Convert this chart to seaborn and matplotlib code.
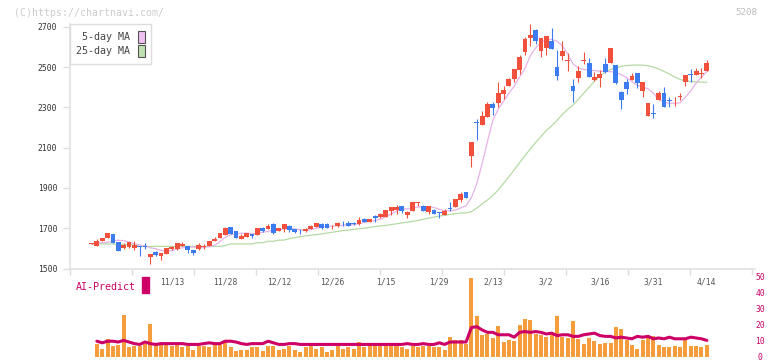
import numpy as np
import pandas as pd
import matplotlib
matplotlib.use("Agg")
import matplotlib.pyplot as plt
import seaborn as sns
from matplotlib.patches import Rectangle
from matplotlib.transforms import blended_transform_factory

# --- values (116 trading days, Nov 2025 - Apr 14 2026) ---
opens = [1624, 1613, 1638, 1653, 1671, 1632, 1603, 1608, 1600, 1609,
         1611, 1559, 1584, 1562, 1574, 1595, 1597, 1612, 1610, 1592,
         1597, 1608, 1613, 1637, 1651, 1668, 1704, 1686, 1648, 1658,
         1671, 1666, 1703, 1696, 1723, 1688, 1698, 1713, 1696, 1686,
         1684, 1696, 1706, 1723, 1723, 1709, 1713, 1726, 1726, 1725,
         1719, 1747, 1732, 1762, 1754, 1757, 1787, 1792, 1810, 1767,
         1787, 1824, 1810, 1782, 1790, 1778, 1767, 1798, 1807, 1840,
         1880, 2058, 2225, 2212, 2252, 2316, 2321, 2368, 2406, 2441,
         2487, 2575, 2646, 2684, 2578, 2594, 2631, 2502, 2555, 2530,
         2406, 2447, 2531, 2521, 2435, 2447, 2515, 2522, 2510, 2378,
         2425, 2437, 2470, 2383, 2258, 2270, 2338, 2369, 2335, 2329,
         2353, 2427, 2464, 2460, 2467, 2482]
highs = [1627, 1645, 1652, 1677, 1672, 1633, 1628, 1633, 1635, 1610,
         1627, 1572, 1589, 1578, 1603, 1612, 1628, 1630, 1611, 1593,
         1625, 1620, 1638, 1658, 1678, 1708, 1706, 1687, 1671, 1677,
         1672, 1703, 1705, 1719, 1728, 1702, 1722, 1718, 1697, 1694,
         1700, 1718, 1727, 1728, 1724, 1718, 1731, 1736, 1736, 1731,
         1756, 1752, 1748, 1766, 1775, 1791, 1806, 1815, 1811, 1787,
         1832, 1830, 1815, 1811, 1797, 1782, 1794, 1832, 1845, 1881,
         1882, 2130, 2242, 2282, 2326, 2326, 2426, 2406, 2443, 2492,
         2560, 2651, 2713, 2689, 2645, 2656, 2694, 2584, 2629, 2568,
         2440, 2505, 2573, 2545, 2477, 2487, 2545, 2596, 2512, 2380,
         2439, 2472, 2472, 2428, 2323, 2318, 2381, 2401, 2353, 2351,
         2371, 2461, 2490, 2495, 2493, 2535]
lows = [1623, 1612, 1637, 1652, 1627, 1589, 1595, 1600, 1592, 1564,
        1599, 1521, 1564, 1542, 1573, 1594, 1592, 1610, 1579, 1569,
        1592, 1598, 1612, 1636, 1649, 1667, 1671, 1652, 1646, 1656,
        1653, 1665, 1683, 1695, 1673, 1686, 1683, 1680, 1675, 1673,
        1683, 1694, 1704, 1697, 1701, 1698, 1706, 1713, 1711, 1716,
        1717, 1729, 1730, 1731, 1752, 1756, 1767, 1770, 1777, 1752,
        1785, 1810, 1785, 1772, 1770, 1752, 1765, 1787, 1805, 1830,
        1848, 2006, 2138, 2210, 2250, 2264, 2303, 2341, 2404, 2427,
        2467, 2561, 2606, 2616, 2551, 2561, 2587, 2436, 2535, 2482,
        2328, 2427, 2513, 2448, 2433, 2402, 2470, 2520, 2416, 2293,
        2366, 2435, 2394, 2353, 2257, 2247, 2336, 2301, 2303, 2305,
        2338, 2406, 2427, 2458, 2447, 2480]
closes = [1626, 1635, 1651, 1676, 1628, 1589, 1617, 1632, 1618, 1607,
          1609, 1572, 1567, 1577, 1602, 1608, 1627, 1623, 1592, 1579,
          1617, 1610, 1637, 1648, 1676, 1701, 1673, 1653, 1661, 1675,
          1663, 1701, 1686, 1713, 1678, 1701, 1721, 1693, 1681, 1684,
          1698, 1713, 1726, 1699, 1703, 1711, 1726, 1724, 1713, 1723,
          1741, 1731, 1747, 1751, 1769, 1790, 1805, 1807, 1787, 1781,
          1830, 1826, 1787, 1810, 1772, 1776, 1787, 1796, 1843, 1872,
          1850, 2128, 2223, 2257, 2316, 2297, 2371, 2388, 2441, 2490,
          2551, 2641, 2659, 2631, 2642, 2654, 2589, 2457, 2579, 2532,
          2381, 2480, 2533, 2450, 2452, 2465, 2474, 2594, 2421, 2338,
          2393, 2457, 2422, 2426, 2321, 2268, 2373, 2303, 2333, 2331,
          2356, 2459, 2461, 2478, 2469, 2520]
ma5 = [1622, 1628, 1628, 1630, 1636, 1640, 1638, 1632, 1622, 1617,
       1612, 1603, 1598, 1590, 1587, 1589, 1597, 1603, 1608, 1606,
       1603, 1604, 1608, 1615, 1633, 1655, 1668, 1672, 1675, 1676,
       1672, 1675, 1680, 1684, 1690, 1692, 1696, 1698, 1696, 1692,
       1690, 1693, 1700, 1706, 1709, 1710, 1712, 1715, 1717, 1718,
       1722, 1729, 1734, 1738, 1745, 1757, 1770, 1785, 1797, 1795,
       1800, 1805, 1807, 1806, 1803, 1794, 1787, 1786, 1790, 1800,
       1812, 1852, 1920, 2020, 2130, 2236, 2290, 2330, 2370, 2405,
       2450, 2493, 2555, 2595, 2620, 2637, 2637, 2628, 2605, 2565,
       2515, 2495, 2487, 2485, 2482, 2479, 2477, 2477, 2474, 2462,
       2448, 2427, 2410, 2400, 2392, 2370, 2340, 2325, 2320, 2320,
       2322, 2350, 2382, 2420, 2450, 2478]
ma25 = [1622, 1622, 1622, 1622, 1622, 1618, 1618, 1618, 1618, 1610,
        1610, 1610, 1610, 1610, 1610, 1610, 1610, 1610, 1610, 1610,
        1610, 1610, 1610, 1610, 1610, 1614, 1622, 1622, 1622, 1622,
        1622, 1628, 1628, 1635, 1635, 1641, 1641, 1648, 1653, 1658,
        1662, 1665, 1668, 1672, 1676, 1680, 1684, 1688, 1691, 1694,
        1697, 1700, 1704, 1708, 1711, 1714, 1718, 1722, 1726, 1730,
        1734, 1738, 1744, 1750, 1755, 1760, 1764, 1768, 1772, 1775,
        1776, 1782, 1800, 1820, 1840, 1862, 1890, 1922, 1955, 1990,
        2025, 2060, 2093, 2125, 2155, 2185, 2208, 2235, 2265, 2290,
        2312, 2340, 2370, 2400, 2430, 2455, 2475, 2488, 2497, 2503,
        2507, 2509, 2510, 2509, 2506, 2500, 2490, 2478, 2465, 2450,
        2438, 2432, 2428, 2426, 2425, 2424]
# volume and AI-Predict exist from the 2nd day on
volume = [8.0, 4.9, 11.1, 6.4, 7.0, 25.9, 5.6, 6.4, 6.4, 8.0,
          20.4, 7.0, 7.0, 7.0, 6.4, 7.0, 5.6, 6.4, 4.2, 6.4,
          6.4, 5.8, 7.0, 7.4, 10.5, 5.6, 3.7, 4.3, 4.3, 5.8,
          5.6, 3.7, 6.4, 6.4, 4.3, 4.9, 6.4, 4.3, 3.0, 5.6,
          6.4, 4.9, 5.6, 3.0, 4.3, 6.4, 4.9, 5.8, 4.9, 9.2,
          5.6, 6.4, 8.6, 6.4, 6.4, 6.4, 6.4, 5.6, 4.9, 6.4,
          5.6, 6.4, 6.4, 5.6, 5.6, 4.3, 12.1, 10.0, 10.5, 8.0,
          48.7, 25.3, 13.6, 14.2, 11.7, 19.1, 9.2, 10.5, 9.4, 19.8,
          23.0, 22.4, 14.2, 13.2, 12.1, 14.2, 24.9, 12.1, 11.7, 21.8,
          11.1, 8.0, 11.7, 9.4, 8.0, 8.6, 8.6, 18.1, 17.3, 10.5,
          7.4, 4.9, 10.0, 13.6, 12.6, 7.4, 5.6, 5.6, 6.4, 5.6,
          10.5, 6.4, 6.4, 5.6, 7.0]
ai_predict = [9.5, 8.5, 9.5, 9.5, 9.0, 10.0, 9.0, 8.0, 7.5, 9.0,
              8.0, 7.5, 8.0, 8.0, 8.0, 8.0, 8.0, 7.5, 7.5, 7.5,
              8.0, 8.5, 8.0, 8.0, 9.5, 9.5, 9.0, 8.0, 7.5, 8.0,
              8.0, 8.0, 9.5, 8.5, 7.5, 7.5, 8.0, 8.0, 7.5, 7.5,
              7.5, 7.5, 7.5, 7.5, 7.5, 7.5, 7.5, 7.5, 7.5, 7.5,
              7.5, 7.5, 7.5, 7.5, 7.5, 7.5, 7.5, 7.5, 8.0, 7.5,
              7.5, 8.0, 7.5, 7.5, 8.5, 7.5, 9.0, 9.0, 9.0, 9.0,
              18.0, 18.5, 16.5, 15.0, 15.0, 13.5, 13.5, 13.5, 12.0, 15.0,
              15.5, 15.0, 15.5, 15.0, 14.0, 14.5, 13.0, 13.5, 13.5, 12.5,
              12.5, 13.5, 14.0, 14.5, 13.0, 12.5, 12.5, 11.5, 12.0, 11.5,
              11.0, 12.5, 12.0, 12.5, 11.0, 11.5, 11.0, 12.0, 11.0, 11.0,
              11.0, 12.0, 11.5, 11.0, 10.0]
date_labels = ['11/13', '11/28', '12/12', '12/26', '1/15', '1/29',
               '2/13', '3/2', '3/16', '3/31', '4/14']
date_idx = [15, 25, 35, 45, 55, 65, 75, 85, 95, 105, 115]

df = pd.DataFrame({'open': opens, 'high': highs, 'low': lows, 'close': closes,
                   'ma5': ma5, 'ma25': ma25})
df['day'] = np.arange(len(df))
vol = pd.DataFrame({'day': df['day'].iloc[1:].values, 'volume': volume, 'ai': ai_predict})

UP, DOWN = '#f0503c', '#3c7cf0'
MAGENTA = '#cc0066'

sns.set_theme(style="white")
plt.rcParams['font.family'] = ['DejaVu Sans Mono', 'DejaVu Sans']

W, H = 772, 361
fig = plt.figure(figsize=(W / 100, H / 100), dpi=100)


def px_box(x0, y0, x1, y1):
    return [x0 / W, 1 - y1 / H, (x1 - x0) / W, (y1 - y0) / H]


ax = fig.add_axes(px_box(70, 24, 755, 268.5))
axv = fig.add_axes(px_box(70, 276, 755, 356.5))

# --- price panel ---
sns.lineplot(data=df, x='day', y='ma25', color='#b5dba5', linewidth=0.9, ax=ax, zorder=1)
sns.lineplot(data=df, x='day', y='ma5', color='#e8b2e9', linewidth=0.9, ax=ax, zorder=1)

colors = np.where(df['close'] >= df['open'], UP, DOWN)
ax.vlines(df['day'], df['low'], df['high'], colors=colors, linewidth=0.8, zorder=2)
body_lo = np.minimum(df['open'], df['close'])
body_h = np.maximum((df['close'] - df['open']).abs(), 4)
ax.bar(df['day'], body_h, bottom=body_lo, width=0.9, color=colors, linewidth=0, zorder=3)

ax.set_xlim(-4.02, 124.0)
ax.set_ylim(1500, 2713.4)
ax.set_yticks(range(1500, 2701, 200))
ax.set_xticks(-4.02 + np.arange(12) * 62 / 5.35)
ax.tick_params(axis='y', left=True, length=5, width=1, color='#dddddd',
               labelsize=5.8, labelcolor='#333333', pad=4.3)
ax.tick_params(axis='x', bottom=True, length=4, width=1, color='#dddddd', labelbottom=False)
for s in ['top', 'right']:
    ax.spines[s].set_visible(False)
for s in ['left', 'bottom']:
    ax.spines[s].set_color('#e0e0e0')
    ax.spines[s].set_linewidth(1.2)
ax.set_xlabel('')
ax.set_ylabel('')

handles = [Rectangle((0, 0), 1, 1, facecolor='#f0c0f0', edgecolor='#555555', linewidth=0.8),
           Rectangle((0, 0), 1, 1, facecolor='#c0e0b0', edgecolor='#555555', linewidth=0.8)]
leg = ax.legend(handles, ['5-day MA', '25-day MA'], loc='upper left', bbox_to_anchor=(0, 1),
                borderaxespad=0, markerfirst=False, frameon=True, fancybox=False,
                edgecolor='#dddddd', framealpha=1, fontsize=7.2, labelcolor='#444444',
                handlelength=0.7, handleheight=1.55, handletextpad=0.7,
                borderpad=0.65, labelspacing=0.15)
leg.get_frame().set_linewidth(1.0)

# --- volume / AI-Predict panel ---
sns.barplot(data=vol, x='day', y='volume', native_scale=True, width=0.75,
            color='#f59d3d', saturation=1, errorbar=None, linewidth=0, ax=axv)
sns.lineplot(data=vol, x='day', y='ai', color=MAGENTA, linewidth=2.2, ax=axv)
axv.set_xlim(-4.02, 124.0)
axv.set_ylim(0, 50)
axv.yaxis.tick_right()
axv.set_yticks(range(0, 51, 10))
axv.tick_params(axis='y', right=False, left=False, length=0, pad=3.6,
                labelsize=5.8, labelcolor=MAGENTA)
axv.set_xticks([])
for s in axv.spines.values():
    s.set_visible(False)
axv.set_xlabel('')
axv.set_ylabel('')
plt.setp(axv.get_yticklabels(), ha='center')

trans = blended_transform_factory(axv.transData, axv.transAxes)
for i, lab in zip(date_idx, date_labels):
    axv.text(i, 0.925, lab, transform=trans, ha='center', va='center',
             fontsize=5.8, color='#555555')

fig.text(76 / W, 1 - 286.5 / H, 'AI-Predict', color=MAGENTA, fontsize=7.2, va='center')
fig.patches.append(Rectangle((142 / W, 1 - 293 / H), 7 / W, 16 / H,
                             transform=fig.transFigure, color=MAGENTA))
fig.text(14 / W, 1 - 12.5 / H, '(C)https://chartnavi.com/', color='#cccccc',
         fontsize=7.1, va='center')
fig.text(757 / W, 1 - 12.5 / H, '5208', color='#bbbbbb', fontsize=6.6,
         va='center', ha='right')

fig.savefig('out.png', dpi=100)
